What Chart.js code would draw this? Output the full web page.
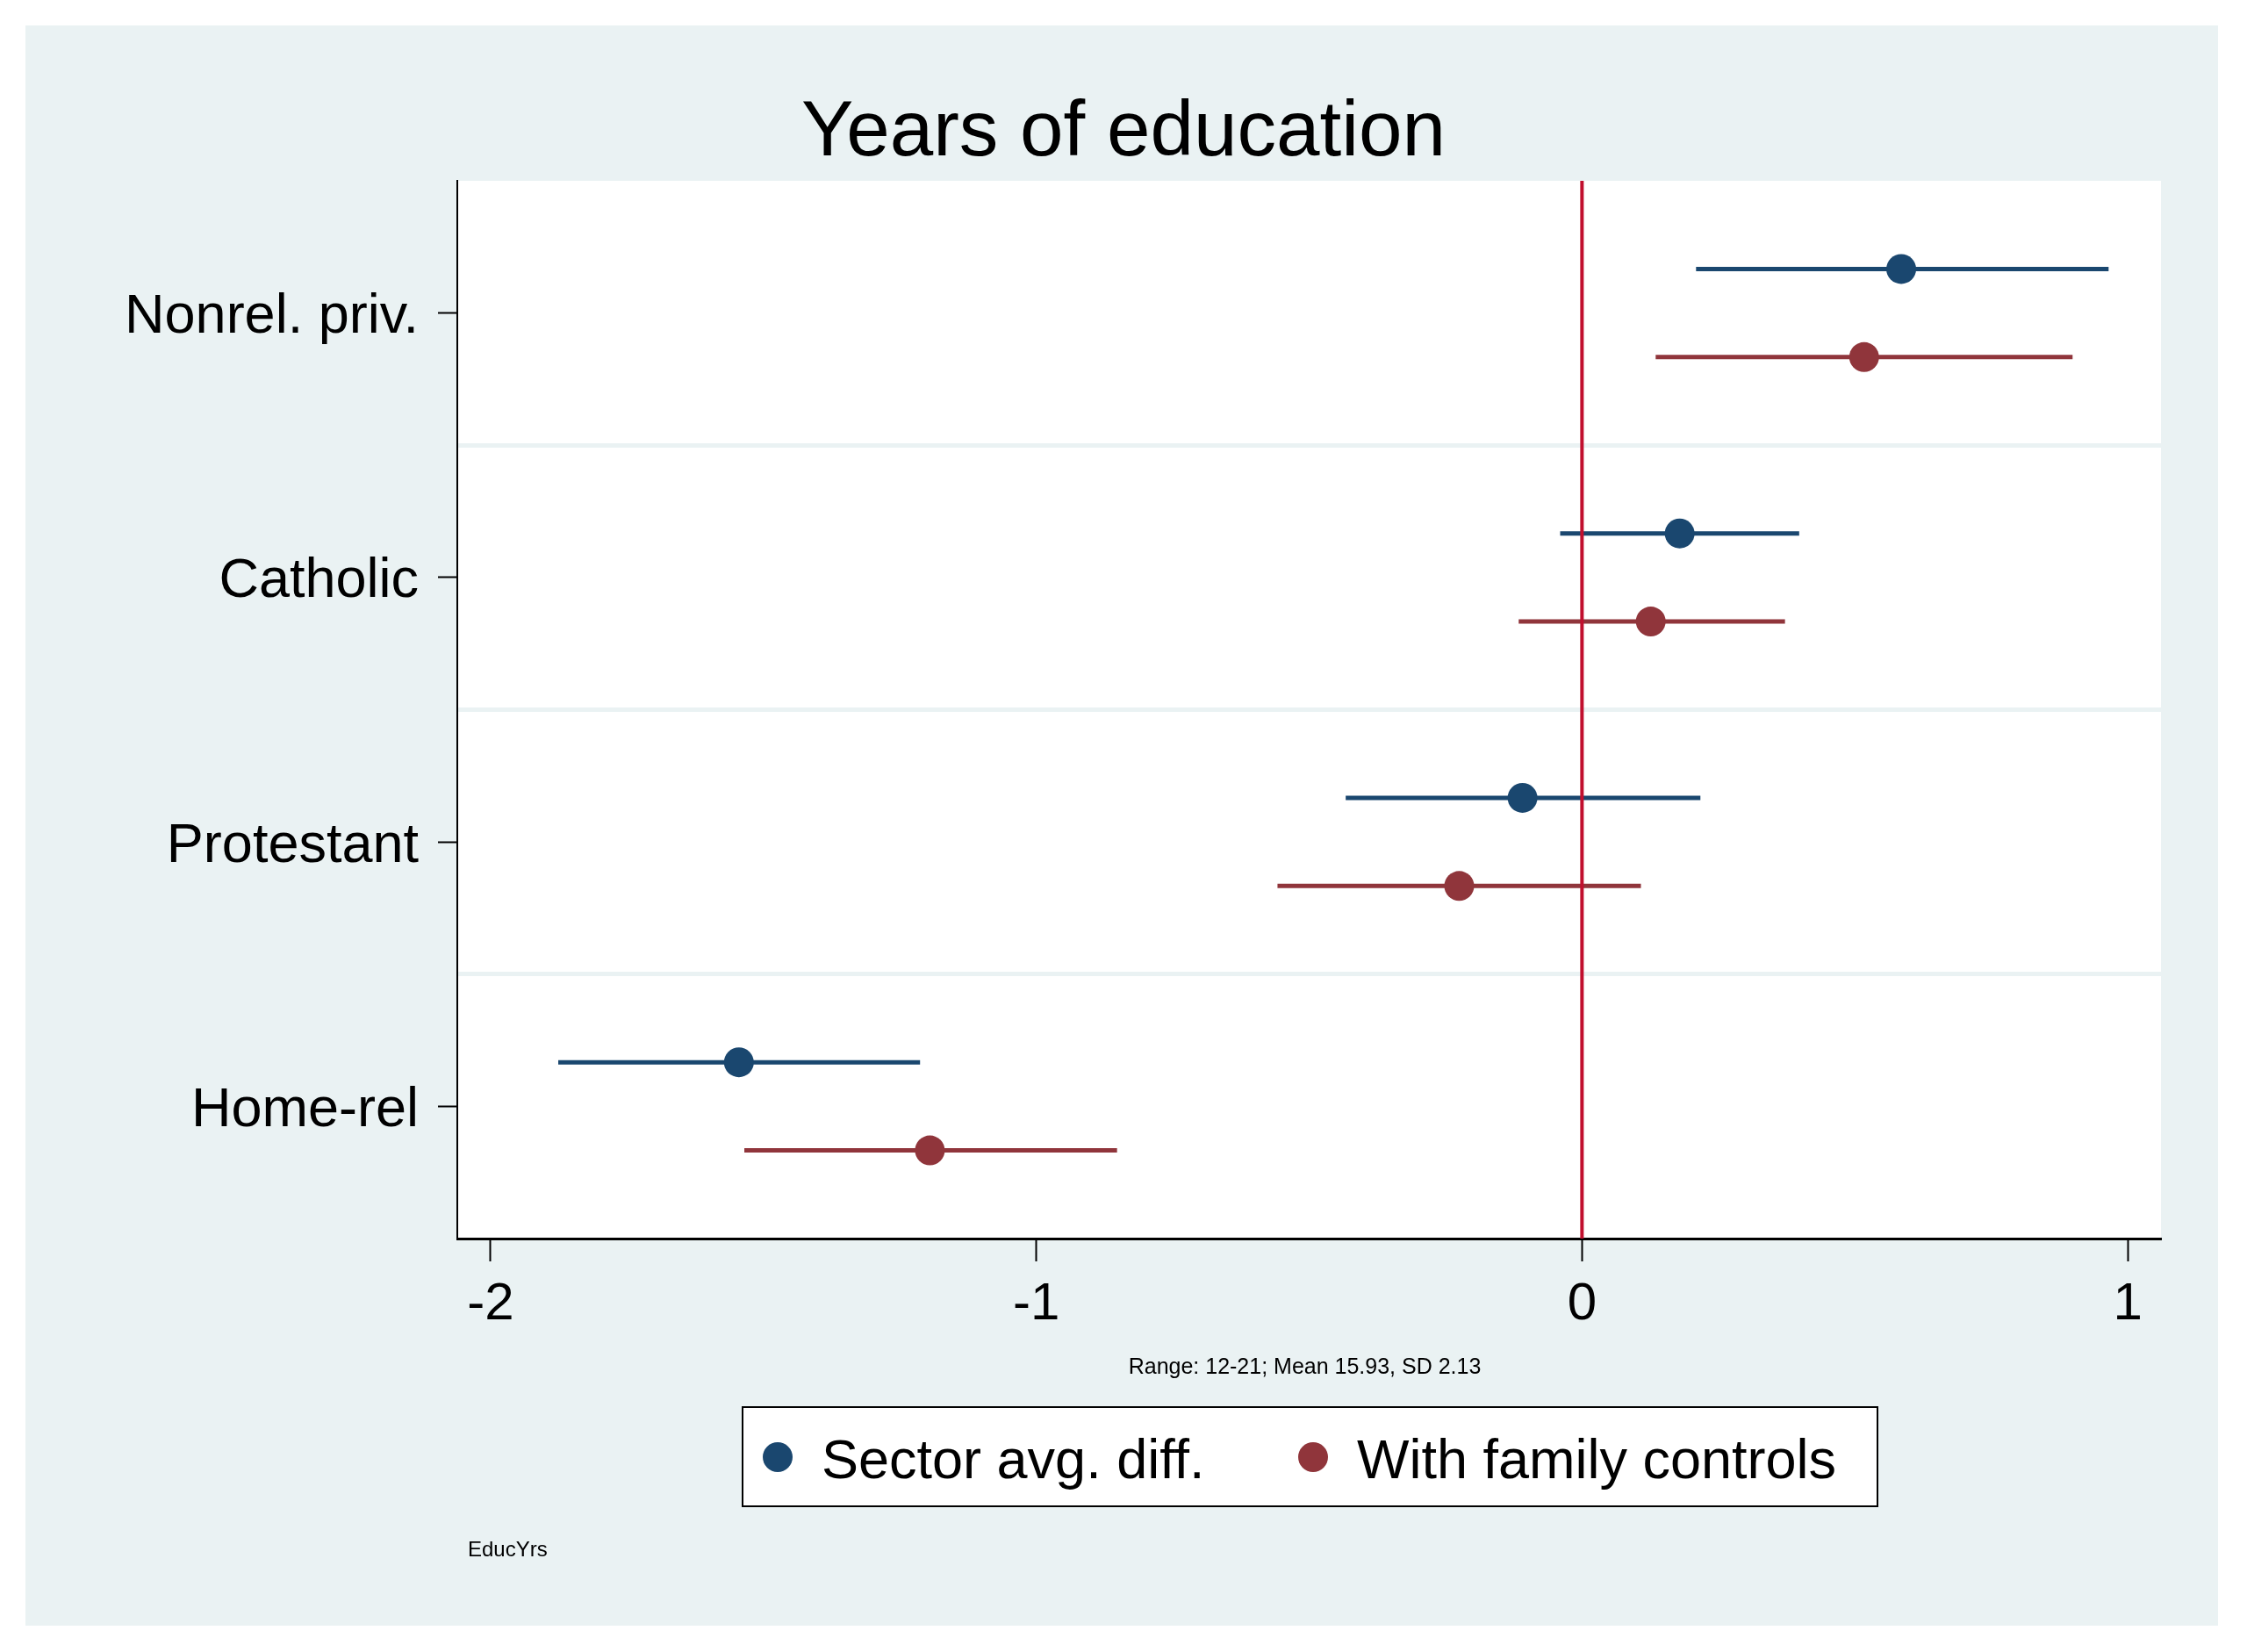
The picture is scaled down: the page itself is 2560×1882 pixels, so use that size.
<!DOCTYPE html>
<html>
<head>
<meta charset="utf-8">
<script src="https://cdn.jsdelivr.net/npm/chart.js@4.4.1/dist/chart.umd.min.js"></script>
<style>
  html, body { margin: 0; padding: 0; background: #ffffff; overflow: hidden; }
  #wrap { width: 2560px; height: 1882px; }
</style>
</head>
<body>
<div id="wrap"><canvas id="c" width="2560" height="1882" style="width:2560px;height:1882px"></canvas></div>
<script>
// ---- data ----
const titleText = "Years of education";
const categories = ["Nonrel. priv.", "Catholic", "Protestant", "Home-rel"];
const seriesNames = ["Sector avg. diff.", "With family controls"];
const sectorEst = [0.585, 0.179, -0.109, -1.545];
const sectorLo  = [0.209, -0.040, -0.433, -1.876];
const sectorHi  = [0.965, 0.398, 0.217, -1.213];
const familyEst = [0.517, 0.126, -0.225, -1.195];
const familyLo  = [0.135, -0.116, -0.558, -1.535];
const familyHi  = [0.899, 0.372, 0.108, -0.852];
const xTicks = [-2, -1, 0, 1];
const noteText = "Range: 12-21; Mean 15.93, SD 2.13";
const varText = "EducYrs";

// ---- styles ----
const FONT = '"Liberation Sans", Arial, Helvetica, sans-serif';
const colors = ["#1a476f", "#90353b"];
const zeroColor = "#c10f2e";
const bgColor = "#eaf2f3";
const offsets = [-1/6, 1/6];

const est = [sectorEst, familyEst];
const lo = [sectorLo, familyLo];
const hi = [sectorHi, familyHi];

const datasets = [];
// points (on top)
for (let s = 0; s < 2; s++) {
  datasets.push({
    type: 'scatter',
    label: seriesNames[s],
    data: categories.map((c, i) => ({ x: est[s][i], y: i + 1 + offsets[s] })),
    backgroundColor: colors[s],
    borderColor: colors[s],
    pointRadius: 17,
    pointHoverRadius: 17,
    borderWidth: 0,
    order: 0
  });
}
// zero reference line
datasets.push({
  type: 'line',
  label: 'zero',
  data: [{ x: 0, y: 0.5 }, { x: 0, y: categories.length + 0.5 }],
  borderColor: zeroColor,
  borderWidth: 4,
  pointRadius: 0,
  fill: false,
  order: 1
});
// confidence intervals
for (let s = 0; s < 2; s++) {
  for (let i = 0; i < categories.length; i++) {
    datasets.push({
      type: 'line',
      label: seriesNames[s] + ' CI ' + categories[i],
      data: [{ x: lo[s][i], y: i + 1 + offsets[s] }, { x: hi[s][i], y: i + 1 + offsets[s] }],
      borderColor: colors[s],
      borderWidth: 5,
      borderCapStyle: 'butt',
      pointRadius: 0,
      fill: false,
      order: 2
    });
  }
}

const decorPlugin = {
  id: 'decor',
  beforeDraw(chart) {
    const ctx = chart.ctx;
    const a = chart.chartArea;
    ctx.save();
    ctx.fillStyle = '#ffffff';
    ctx.fillRect(0, 0, chart.width, chart.height);
    ctx.fillStyle = bgColor;
    ctx.fillRect(29, 29, 2498, 1823);
    ctx.fillStyle = '#ffffff';
    ctx.fillRect(a.left, a.top, a.right - a.left, a.bottom - a.top);
    ctx.restore();
  },
  afterDraw(chart) {
    const ctx = chart.ctx;
    const a = chart.chartArea;
    const cx = (a.left + a.right) / 2;
    ctx.save();
    // title
    ctx.fillStyle = '#000000';
    ctx.textBaseline = 'alphabetic';
    ctx.textAlign = 'center';
    ctx.font = '89px ' + FONT;
    ctx.fillText(titleText, chart.width / 2, 177);
    // note under axis
    ctx.font = '25px ' + FONT;
    ctx.fillText(noteText, cx - 5, 1565);
    // legend box
    const bx = 846, by = 1603, bw = 1293, bh = 113;
    ctx.fillStyle = '#ffffff';
    ctx.fillRect(bx, by, bw, bh);
    ctx.strokeStyle = '#000000';
    ctx.lineWidth = 2;
    ctx.strokeRect(bx, by, bw, bh);
    const itemX = [886, 1496];
    const ly = 1660;
    ctx.font = '63px ' + FONT;
    ctx.textAlign = 'left';
    ctx.textBaseline = 'middle';
    for (let s = 0; s < 2; s++) {
      ctx.fillStyle = colors[s];
      ctx.beginPath();
      ctx.arc(itemX[s], ly, 17, 0, Math.PI * 2);
      ctx.fill();
      ctx.fillStyle = '#000000';
      ctx.fillText(seriesNames[s], itemX[s] + 50, ly + 7);
    }
    // variable note
    ctx.font = '24px ' + FONT;
    ctx.textBaseline = 'alphabetic';
    ctx.fillText(varText, 533, 1773);
    ctx.restore();
  }
};

new Chart(document.getElementById('c'), {
  type: 'scatter',
  data: { datasets },
  options: {
    responsive: false,
    devicePixelRatio: 1,
    animation: false,
    layout: { padding: { left: 0, right: 98, top: 206, bottom: 0 } },
    plugins: {
      legend: { display: false },
      title: { display: false },
      tooltip: { enabled: false }
    },
    scales: {
      x: {
        type: 'linear',
        position: 'bottom',
        min: -2.061,
        max: 1.061,
        afterBuildTicks(scale) { scale.ticks = xTicks.map(v => ({ value: v })); },
        afterFit(scale) { scale.height = 471; },
        grid: {
          drawOnChartArea: false,
          drawTicks: true,
          tickLength: 26,
          tickColor: '#000000',
          tickWidth: 2
        },
        border: { display: true, color: '#000000', width: 3 },
        ticks: {
          color: '#000000',
          padding: 13,
          maxRotation: 0,
          font: { family: FONT, size: 60 },
          callback: v => String(v)
        }
      },
      y: {
        type: 'linear',
        position: 'left',
        min: 0.5,
        max: categories.length + 0.5,
        reverse: true,
        afterBuildTicks(scale) { scale.ticks = categories.map((c, i) => ({ value: i + 1 })); },
        afterFit(scale) { scale.width = 521; },
        grid: {
          drawOnChartArea: false,
          drawTicks: true,
          tickLength: 22,
          tickColor: '#000000',
          tickWidth: 2
        },
        border: { display: true, color: '#000000', width: 2 },
        ticks: {
          color: '#000000',
          padding: 22,
          labelOffset: 5,
          font: { family: FONT, size: 63 },
          callback: v => categories[Math.round(v) - 1] || ''
        }
      },
      ySep: {
        type: 'linear',
        position: 'right',
        min: 0.5,
        max: categories.length + 0.5,
        reverse: true,
        afterBuildTicks(scale) {
          scale.ticks = categories.slice(1).map((c, i) => ({ value: i + 1.5 }));
        },
        afterFit(scale) { scale.width = 0; },
        grid: {
          drawOnChartArea: true,
          drawTicks: false,
          color: bgColor,
          lineWidth: 5
        },
        border: { display: false },
        ticks: { display: false }
      }
    }
  },
  plugins: [decorPlugin]
});
</script>
</body>
</html>
